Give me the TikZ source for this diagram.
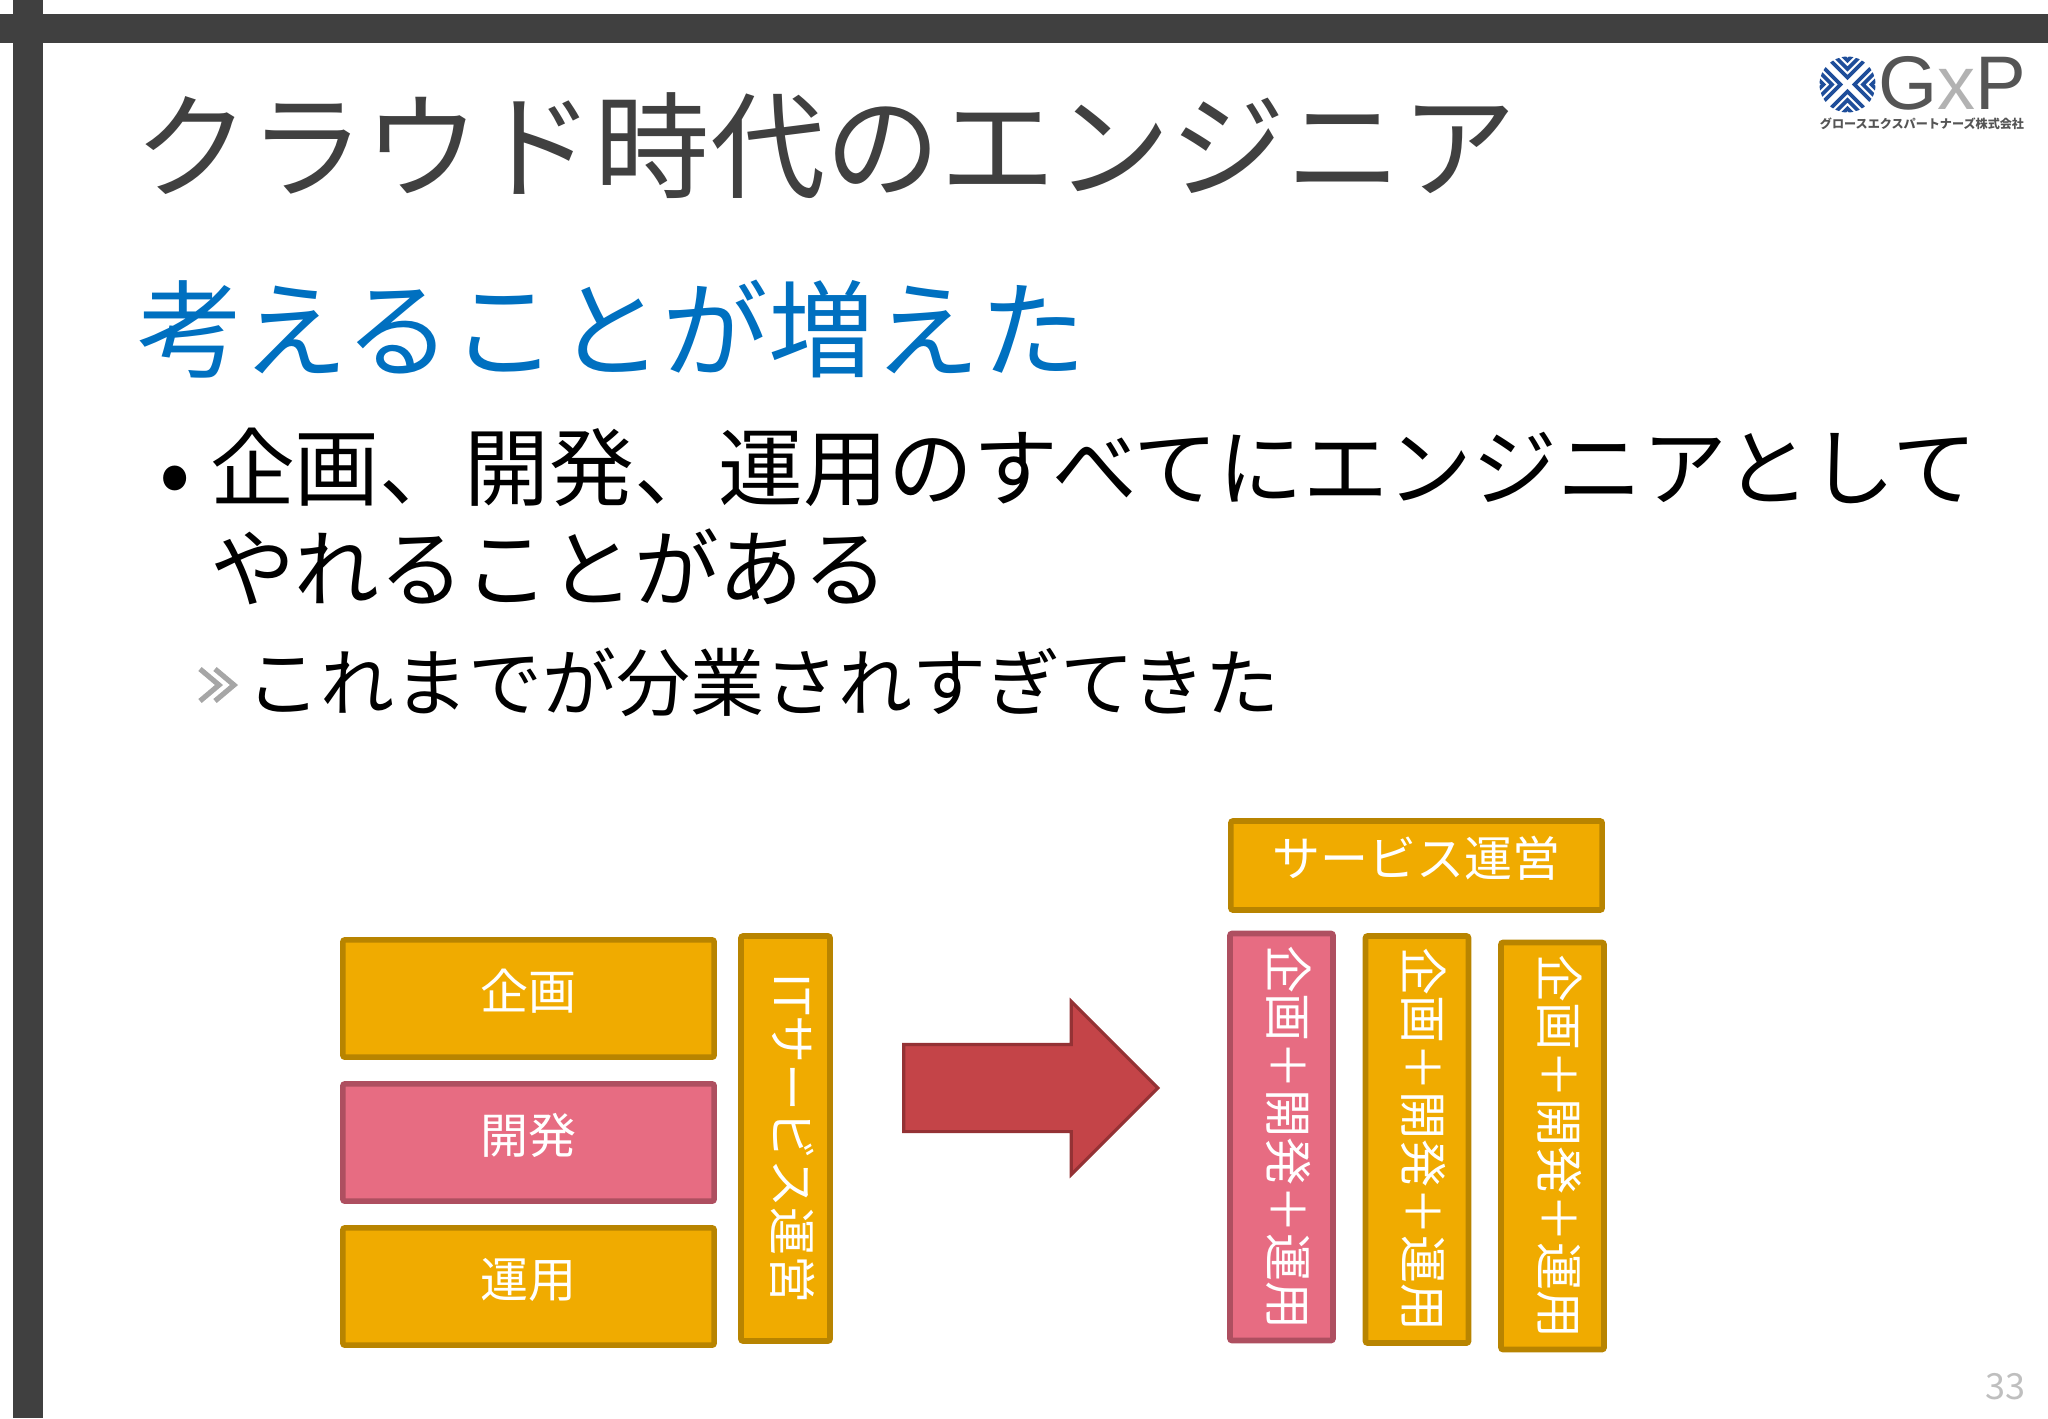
\documentclass[tikz,border=0pt]{standalone}
\usepackage{fontspec}
\setmainfont{Noto Sans CJK JP}
\newfontfamily\logofont{Liberation Sans}
\usetikzlibrary{positioning,shapes.arrows}
\definecolor{gxdark}{RGB}{64,64,64}
\definecolor{gxblue}{RGB}{0,112,192}
\definecolor{gxmark}{RGB}{31,78,154}
\definecolor{gxlogo}{RGB}{85,85,85}
\definecolor{gxorange}{RGB}{240,171,0}
\definecolor{gxorangeline}{RGB}{184,132,0}
\definecolor{gxpink}{RGB}{231,108,130}
\definecolor{gxpinkline}{RGB}{174,79,96}
\definecolor{gxred}{RGB}{196,68,72}
\definecolor{gxredline}{RGB}{148,50,53}
\tikzstyle{slidetext} = [anchor=base west, inner sep=0pt, outer sep=0pt]
\tikzstyle{plainbox} = [rectangle, rounded corners=1pt, line width=2.8pt, text=white, inner sep=0pt, text height=19.7pt, text depth=8.3pt, font=\fontsize{24}{28}\selectfont]
\tikzstyle{orangebox} = [plainbox, draw=gxorangeline, fill=gxorange]
\tikzstyle{pinkbox} = [plainbox, draw=gxpinkline, fill=gxpink]
\tikzstyle{wide} = [minimum width=185.6pt, minimum height=58.6pt]
\begin{document}
\begin{tikzpicture}[x=0.5pt, y=-0.5pt]
\useasboundingbox (0,0) rectangle (2048,1418);
% Slide frame
\fill[gxdark] (0,14) rectangle (2048,43);
\fill[gxdark] (13,0) rectangle (43,1418);

% Logo
\begin{scope}
\clip (1847.5,84.5) circle (28);
\foreach \turn in {0,90,180,270} {
  \foreach \dist in {7,15.5,24} {
    \draw[gxmark, line width=1.8pt, rotate around={\turn:(1847.5,84.5)}] (1807.5,84.5+\dist+40) -- (1847.5,84.5+\dist) -- (1887.5,84.5+\dist+40);
  }
}
\end{scope}
\node (gxp) [slidetext] at (1878,110) {\logofont\fontsize{38}{38}\selectfont\textcolor{gxlogo}{G}\textcolor{black!30}{x}\textcolor{gxlogo}{P}};
\node (company) [inner sep=0pt, text=gxlogo] at (1922,124) {\fontsize{6.05}{7}\selectfont\bfseries グロースエクスパートナーズ株式会社};

% Slide text
\node (title) [slidetext, text=gxdark] at (134,189) {\fontsize{57.6}{60}\selectfont クラウド時代のエンジニア};
\node (heading) [slidetext, text=gxblue] at (137,369) {\fontsize{52.9}{56}\selectfont 考えることが増えた};
\node (dot) [slidetext] at (159,505) {\fontsize{46}{46}\selectfont •};
\node (lineone) [slidetext] at (210,499) {\fontsize{42.4}{46}\selectfont 企画、開発、運用のすべてにエンジニアとして};
\node (linetwo) [slidetext] at (210,600) {\fontsize{42.4}{46}\selectfont やれることがある};
\foreach \chev in {0,15} {
  \draw[black!35, line width=2.6pt] (200+\chev,669) -- (219+\chev,685) -- (200+\chev,701);
}
\node (subline) [slidetext] at (246,710) {\fontsize{37}{40}\selectfont これまでが分業されすぎてきた};

% Before
\node (kikaku) [orangebox, wide] at (528.5,998.5) {企画};
\node (kaihatsu) [pinkbox, wide, below=10.6pt of kikaku] {開発};
\node (unyou) [orangebox, wide, below=10.6pt of kaihatsu] {運用};
\node (itservice) [orangebox, rotate=-90, minimum width=202.5pt, minimum height=44.5pt] at (785.5,1138.5) {ITサービス運営};

% Arrow
\node (bigarrow) [single arrow, draw=gxredline, fill=gxred, line width=1.6pt, inner xsep=0pt, inner ysep=21pt, minimum height=127pt, single arrow head extend=21.5pt, single arrow head indent=0pt] at (1009,1088) {};

% After
\node (service) [orangebox, wide, minimum height=44.5pt] at (1416.5,865.5) {サービス運営};
\node (teamone) [pinkbox, rotate=-90, minimum width=203.5pt, minimum height=51.5pt] at (1281.5,1137) {企画＋開発＋運用};
\node (teamtwo) [orangebox, rotate=-90, minimum width=203.5pt, minimum height=51.5pt] at (1417,1139.5) {企画＋開発＋運用};
\node (teamthree) [orangebox, rotate=-90, minimum width=203.5pt, minimum height=51.5pt] at (1552.5,1146) {企画＋開発＋運用};

\node (pagenum) [text=black!25, inner sep=0pt] at (2005,1387) {\fontsize{18}{20}\selectfont 33};
\end{tikzpicture}
\end{document}
